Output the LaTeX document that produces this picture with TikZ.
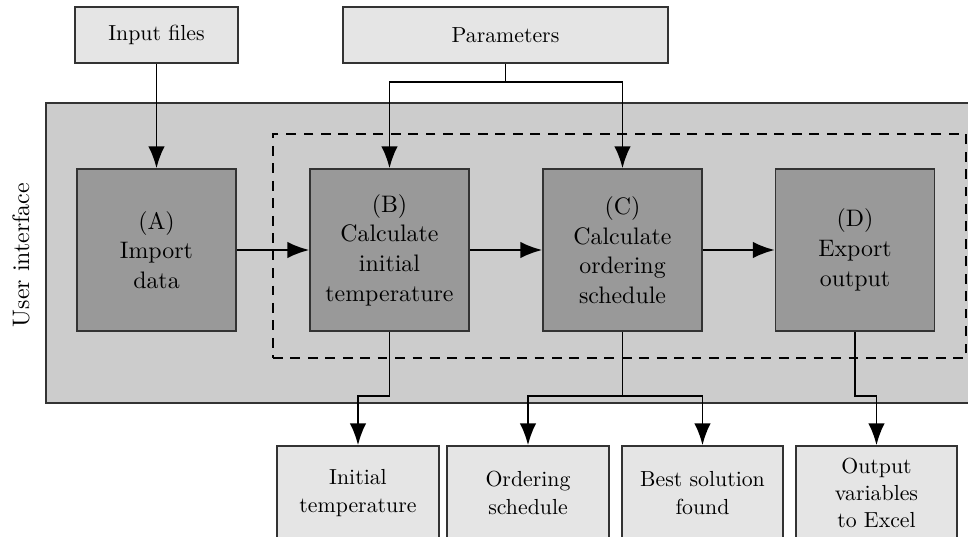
\documentclass[tikz,border=0pt]{standalone}
\usetikzlibrary{arrows.meta}
\begin{document}
\begin{tikzpicture}[x=0.4587pt,y=-0.4587pt,
  base/.style={draw=black!80, line width=0.7pt, align=center, inner sep=0pt,
    font=\fontsize{10}{12.5}\selectfont},
  ext/.style={base, fill=black!10},
  proc/.style={base, fill=black!40, minimum width=159*0.4587pt, minimum height=162*0.4587pt,
    font=\fontsize{10.95}{13.6}\selectfont},
  outbox/.style={ext, minimum width=161*0.4587pt, minimum height=94*0.4587pt},
  arr/.style={-{Latex[length=10pt,width=7.5pt]}, line width=0.9pt},
  ln/.style={line width=0.9pt}]
\useasboundingbox (0,0) rectangle (968,537);
% user interface frame
\node[draw=black!80, fill=black!20, line width=0.7pt, minimum width=929*0.4587pt,
  minimum height=300*0.4587pt, inner sep=0pt] (ui) at (510.5,253) {};
\node[rotate=90, font=\fontsize{10.95}{13.6}\selectfont] (uil) at (21,255) {User interface};
\node[draw=black, line width=0.9pt, dash pattern=on 4.5pt off 3.5pt,
  minimum width=693*0.4587pt, minimum height=224*0.4587pt, inner sep=0pt] (dash) at (619.5,246) {};
% top inputs
\node[ext, minimum width=163*0.4587pt, minimum height=56*0.4587pt] (in) at (156.5,35) {Input files};
\node[ext, minimum width=325*0.4587pt, minimum height=56*0.4587pt] (par) at (505.5,35) {Parameters};
% processes
\node[proc] (A) at (156.5,250) {(A)\\Import\\data};
\node[proc] (B) at (389.5,250) {(B)\\Calculate\\initial\\temperature};
\node[proc] (C) at (622.5,250) {(C)\\Calculate\\ordering\\schedule};
\node[proc] (D) at (855,250) {(D)\\Export\\output};
% outputs
\node[outbox, minimum width=162*0.4587pt] (t1) at (358,493) {Initial\\temperature};
\node[outbox, minimum width=162*0.4587pt] (t2) at (528,493) {Ordering\\schedule};
\node[outbox] (t3) at (702.5,493) {Best solution\\found};
\node[outbox] (t4) at (876.5,493) {Output\\variables\\to Excel};
% junctions
\coordinate (pj) at (505.5,82);
\coordinate (bj) at (389.5,396);
\coordinate (cj) at (622.5,396);
\coordinate (dj) at (855,396);
% connectors
\draw[arr] (in) -- (A);
\draw[ln] (par) -- (pj);
\draw[arr] (pj) -| (B);
\draw[arr] (pj) -| (C);
\draw[arr] (A) -- (B);
\draw[arr] (B) -- (C);
\draw[arr] (C) -- (D);
\draw[arr] (B) -- (bj) -| (t1);
\draw[ln] (C) -- (cj);
\draw[arr] (cj) -| (t2);
\draw[arr] (cj) -| (t3);
\draw[arr] (D) -- (dj) -| (t4);
\end{tikzpicture}
\end{document}
